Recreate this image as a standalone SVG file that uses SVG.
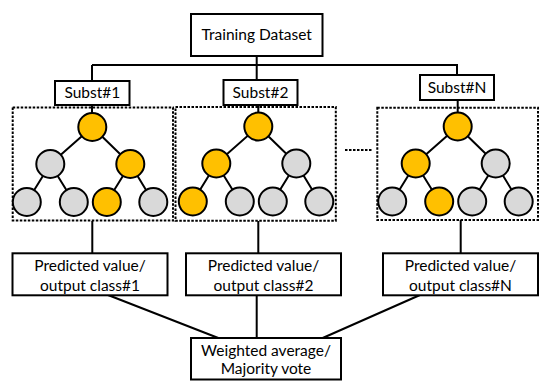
<svg xmlns="http://www.w3.org/2000/svg" width="550" height="391" viewBox="0 0 550 391">
<style>
.box{fill:#fff;stroke:#000;stroke-width:2}
.dash{fill:none;stroke:#000;stroke-width:2;stroke-dasharray:2.5 1.5}
.ln{stroke:#000;stroke-width:2;fill:none}
.y{fill:#FFC000;stroke:#000;stroke-width:2}
.g{fill:#D9D9D9;stroke:#000;stroke-width:2}
text{font-family:Lato,"Open Sans","Liberation Sans",sans-serif;font-size:15.5px;fill:#000;text-anchor:middle}
</style>
<defs>
<g id="edges">
<path class="ln" d="M0,0L-42,37M0,0L38,37M-42,37L-65.5,75M-42,37L-18.5,75M38,37L14.5,75M38,37L61,75"/>
</g>
</defs>
<g id="connectors">
<path class="ln" d="M256.7,56V65M92,65H458M92,65V81M256.7,65V80M457,65V75"/>
<path class="ln" d="M92,105V113M258.3,105V112M457.7,100V112"/>
<path class="ln" d="M92.3,221V253M258.3,221V253M460.7,220V253"/>
<path class="ln" d="M108,295L218.3,338M256.7,295V338M420,295L322.7,338"/>
<path class="dash" d="M345,150H372"/>
</g>
<g id="training"><rect class="box" x="191" y="14" width="131.5" height="42"/><text x="256.7" y="40">Training Dataset</text></g>
<g id="subst1"><rect class="box" x="55" y="81" width="74.5" height="24"/><text x="92.3" y="98">Subst#1</text></g>
<g id="subst2"><rect class="box" x="223.5" y="80" width="74" height="25"/><text x="260.5" y="98">Subst#2</text></g>
<g id="substN"><rect class="box" x="420" y="75" width="74" height="25"/><text x="457" y="93">Subst#N</text></g>
<g id="tree1">
<rect class="dash" x="12.7" y="107.5" width="160.3" height="113"/>
<use href="#edges" x="92.3" y="127"/>
<circle class="y" cx="92.3" cy="127" r="14"/>
<circle class="g" cx="50.3" cy="164" r="14"/>
<circle class="y" cx="130.3" cy="164" r="14"/>
<circle class="g" cx="26.8" cy="202" r="14"/>
<circle class="g" cx="73.8" cy="202" r="14"/>
<circle class="y" cx="106.8" cy="202" r="14"/>
<circle class="g" cx="153.3" cy="202" r="14"/>
</g>
<g id="tree2">
<rect class="dash" x="175.5" y="107" width="160.3" height="113.7"/>
<use href="#edges" x="258.3" y="126.5"/>
<circle class="y" cx="258.3" cy="126.5" r="14"/>
<circle class="y" cx="216.3" cy="163.5" r="14"/>
<circle class="g" cx="296.3" cy="163.5" r="14"/>
<circle class="y" cx="192.8" cy="201.5" r="14"/>
<circle class="g" cx="239.8" cy="201.5" r="14"/>
<circle class="g" cx="272.8" cy="201.5" r="14"/>
<circle class="g" cx="319.3" cy="201.5" r="14"/>
</g>
<g id="treeN">
<rect class="dash" x="377.3" y="107.7" width="160.7" height="112.3"/>
<use href="#edges" x="457.7" y="126.5"/>
<circle class="y" cx="457.7" cy="126.5" r="14"/>
<circle class="y" cx="415.7" cy="163.5" r="14"/>
<circle class="g" cx="495.7" cy="163.5" r="14"/>
<circle class="g" cx="392.2" cy="201.5" r="14"/>
<circle class="y" cx="439.2" cy="201.5" r="14"/>
<circle class="g" cx="472.2" cy="201.5" r="14"/>
<circle class="g" cx="518.7" cy="201.5" r="14"/>
</g>
<g id="pred1"><rect class="box" x="12.5" y="253.3" width="155" height="42"/><text x="90" y="271">Predicted value/</text><text x="90" y="291">output class#1</text></g>
<g id="pred2"><rect class="box" x="186" y="253.3" width="155" height="42"/><text x="263.5" y="271">Predicted value/</text><text x="263.5" y="291">output class#2</text></g>
<g id="predN"><rect class="box" x="383" y="253.3" width="155" height="42"/><text x="460.5" y="271">Predicted value/</text><text x="460.5" y="291">output class#N</text></g>
<g id="vote"><rect class="box" x="191" y="338" width="150" height="41.5"/><text x="266" y="356">Weighted average/</text><text x="266" y="374">Majority vote</text></g>
</svg>
